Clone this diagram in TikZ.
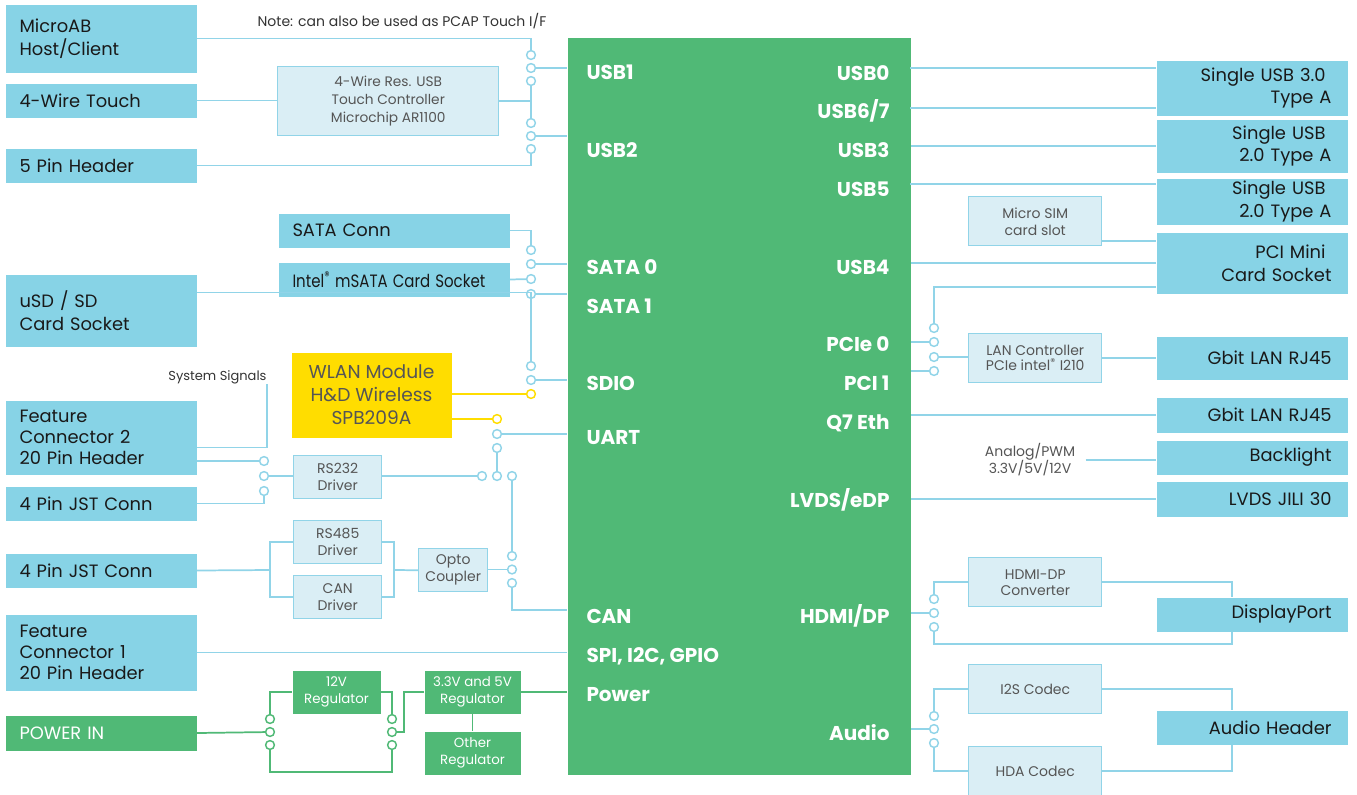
\documentclass[tikz,border=0pt]{standalone}
\usepackage{fontspec}
\setmainfont{Poppins}
\usetikzlibrary{positioning}

\definecolor{boxcyan}{RGB}{135,211,230}
\definecolor{modgreen}{RGB}{80,185,118}
\definecolor{wireblue}{RGB}{145,212,232}
\definecolor{subfill}{RGB}{218,238,245}
\definecolor{wlanyellow}{RGB}{255,221,0}
\definecolor{subtext}{RGB}{85,85,85}

\tikzset{every picture/.style={line width=0.75pt}}
\tikzset{
  ext/.style={fill=boxcyan, anchor=north west, inner xsep=10.5pt, inner ysep=0pt, text width=122.25pt, align=left, text=black!90, font=\fontsize{13.4}{17}\selectfont},
  extr/.style={ext, align=right, inner xsep=12pt, text width=119.25pt},
  sub/.style={draw=wireblue, fill=subfill, line width=1.1pt, anchor=north west, align=center, inner sep=0pt, text=subtext, font=\fontsize{10.5}{12.75}\selectfont},
  reg/.style={fill=modgreen, anchor=north west, align=center, inner sep=0pt, text=white, font=\fontsize{10}{12.75}\selectfont},
  port/.style={text=white, inner sep=0pt, text height=11pt, text depth=0pt, font=\fontsize{15}{18}\selectfont\bfseries},
  note/.style={text=black!80, inner sep=0pt, font=\fontsize{10.5}{12.75}\selectfont},
  wire/.style={draw=wireblue, line width=1.3pt},
  pwire/.style={draw=modgreen, line width=1.3pt},
  ywire/.style={draw=wlanyellow, line width=1.3pt},
  sw/.style={circle, draw=wireblue, fill=white, line width=1.1pt, minimum size=6.6pt, inner sep=0pt},
  psw/.style={sw, draw=modgreen},
  ysw/.style={sw, draw=wlanyellow}
}

\begin{document}
\begin{tikzpicture}[x=0.75pt,y=0.75pt,yscale=-1,xscale=1]
\useasboundingbox (0,0) rectangle (1357,794);

%Shape: Qseven module
\node[fill=modgreen, anchor=north west, inner sep=0pt, minimum width=257.25pt, minimum height=552.75pt] (main) at (567,37) {};

% Ports, left
\node[port, anchor=west] (pUSBa) at (586,72) {USB1};
\node[port, anchor=west] (pUSBb) at (586,150) {USB2};
\node[port, anchor=west] (pSATAa) at (586,267) {SATA 0};
\node[port, anchor=west] (pSATAb) at (586,306) {SATA 1};
\node[port, anchor=west] (pSDIO) at (586,383) {SDIO};
\node[port, anchor=west] (pUART) at (586,437) {UART};
\node[port, anchor=west] (pCAN) at (586,616) {CAN};
\node[port, anchor=west] (pSPI) at (586,655) {SPI, I2C, GPIO};
\node[port, anchor=west] (pPWR) at (586,694) {Power};
% Ports, right
\node[port, anchor=east] (pUSBz) at (890,73) {USB0};
\node[port, anchor=east] (pUSBs) at (890,111) {USB6/7};
\node[port, anchor=east] (pUSBt) at (890,150) {USB3};
\node[port, anchor=east] (pUSBf) at (890,189) {USB5};
\node[port, anchor=east] (pUSBq) at (890,267) {USB4};
\node[port, anchor=east] (pPCIe) at (890,344) {PCIe 0};
\node[port, anchor=east] (pPCI) at (890,383) {PCI 1};
\node[port, anchor=east] (pETH) at (890,422) {Q7 Eth};
\node[port, anchor=east] (pLVDS) at (890,500) {LVDS/eDP};
\node[port, anchor=east] (pHDMI) at (890,616) {HDMI/DP};
\node[port, anchor=east] (pAUD) at (890,733) {Audio};

%Shape: left connectors
\node[ext, minimum height=51pt] (microab) at (5,4) {MicroAB\\Host/Client};
\node[ext, minimum height=25.5pt] (touch) at (5,83) {4-Wire Touch};
\node[ext, minimum height=25.5pt] (pinhdr) at (5,148) {5 Pin Header};
\node[ext, minimum height=54pt] (usd) at (5,274) {uSD / SD\\Card Socket};
\node[ext, minimum height=55.5pt, font=\fontsize{13.4}{15.75}\selectfont] (feat2) at (5,400) {Feature\\Connector 2\\20 Pin Header};
\node[ext, minimum height=25.5pt] (jsta) at (5,486) {4 Pin JST Conn};
\node[ext, minimum height=25.5pt] (jstb) at (5,553) {4 Pin JST Conn};
\node[ext, minimum height=57pt, font=\fontsize{13.4}{15.75}\selectfont] (feat1) at (5,614) {Feature\\Connector 1\\20 Pin Header};
\node[ext, fill=modgreen, text=white, minimum height=26.25pt] (pwrin) at (5,715) {POWER IN};
\node[ext, text width=152.25pt, minimum height=25.5pt] (sataconn) at (278,213) {SATA Conn};
\node[ext, text width=152.25pt, minimum height=25.5pt] (msata) at (278,262) {\scalebox{0.84}[1]{Intel\textsuperscript{®} mSATA Card Socket}};

%Shape: left helpers
\node[sub, minimum width=165.75pt, minimum height=51.75pt, font=\fontsize{10.3}{13.5}\selectfont] (ctrl) at (277,66) {4-Wire Res. USB\\Touch Controller\\Microchip AR1100};
\node[anchor=north west, fill=wlanyellow, inner sep=0pt, minimum width=120pt, minimum height=63.75pt, align=center, text=subtext, font=\fontsize{14}{17.25}\selectfont] (wlan) at (291,352) {WLAN Module\\H\&D Wireless\\SPB209A};
\node[sub, minimum width=66pt, minimum height=32.25pt] (rsA) at (293,455) {RS232\\Driver};
\node[sub, minimum width=66pt, minimum height=32.25pt] (rsB) at (293,520) {RS485\\Driver};
\node[sub, minimum width=66pt, minimum height=32.25pt] (candrv) at (293,575) {CAN\\Driver};
\node[sub, minimum width=51.75pt, minimum height=32.25pt] (opto) at (418,548) {Opto\\Coupler};
\node[reg, minimum width=66pt, minimum height=32.25pt] (regtw) at (292,670) {12V\\Regulator};
\node[reg, minimum width=72pt, minimum height=32.25pt] (regtf) at (424,670) {3.3V and 5V\\Regulator};
\node[reg, minimum width=72pt, minimum height=32.25pt] (regot) at (424,731) {Other\\Regulator};

%Shape: right connectors
\node[extr, minimum height=41.25pt] (usbthree) at (1156,60) {Single USB 3.0\hspace{4.5pt}\mbox{}\\Type A};
\node[extr, minimum height=39.75pt] (usbtwoa) at (1156,119) {Single USB\hspace{4.5pt}\mbox{}\\2.0 Type A};
\node[extr, minimum height=34.5pt] (usbtwob) at (1156,178) {Single USB\hspace{4.5pt}\mbox{}\\2.0 Type A};
\node[extr, minimum height=45.75pt] (pcimini) at (1156,232) {PCI Mini\hspace{4.5pt}\mbox{}\\Card Socket};
\node[extr, minimum height=32.25pt] (lana) at (1156,336) {Gbit LAN RJ45};
\node[extr, minimum height=26.25pt] (lanb) at (1156,397) {Gbit LAN RJ45};
\node[extr, minimum height=25.5pt] (blight) at (1156,440) {Backlight};
\node[extr, minimum height=26.25pt] (lvds) at (1156,481) {LVDS JILI 30};
\node[extr, minimum height=25.5pt] (dport) at (1156,597) {DisplayPort};
\node[extr, minimum height=25.5pt] (audhdr) at (1156,710) {Audio Header};

%Shape: right helpers
\node[sub, minimum width=99.75pt, minimum height=36.75pt] (sim) at (968,196) {Micro SIM\\card slot};
\node[sub, minimum width=99.75pt, minimum height=36.75pt, font=\fontsize{10.5}{11.25}\selectfont] (lanctl) at (968,333) {LAN Controller\\PCIe intel\textsuperscript{®} I210};
\node[sub, minimum width=99.75pt, minimum height=36.75pt, font=\fontsize{10.5}{12}\selectfont] (hdmidp) at (968,557) {HDMI-DP\\Converter};
\node[sub, minimum width=99.75pt, minimum height=36.75pt] (itwos) at (968,664) {I2S Codec};
\node[sub, minimum width=99.75pt, minimum height=36.75pt] (hda) at (968,746) {HDA Codec};

% Text Node
\node[note] (pcapnote) at (402,21) {Note: can also be used as PCAP Touch I/F};
% Text Node
\node[note, anchor=south east, font=\fontsize{9.75}{12}\selectfont] (syssig) at (267,384) {System Signals};
% Text Node
\node[note, align=center, inner xsep=7.5pt, text=subtext] (analog) at (1030,460) {Analog/PWM\\3.3V/5V/12V};

% Switches
\node[sw] (ua) at (531,55) {};
\node[sw] (ub) at (531,68) {};
\node[sw] (uc) at (531,81) {};
\node[sw] (va) at (531,123) {};
\node[sw] (vb) at (531,136) {};
\node[sw] (vc) at (531,149) {};
\node[sw] (sa) at (531,250) {};
\node[sw] (sb) at (531,264) {};
\node[sw] (sc) at (531,279) {};
\node[sw] (sd) at (531,294) {};
\node[sw] (da) at (531,366) {};
\node[sw] (db) at (531,380) {};
\node[ysw] (dc) at (531,394) {};
\node[ysw] (wa) at (497,419) {};
\node[sw] (wb) at (497,434) {};
\node[sw] (wc) at (497,448) {};
\node[sw] (ha) at (482,476) {};
\node[sw] (hb) at (497,476) {};
\node[sw] (hc) at (512,476) {};
\node[sw] (ca) at (512,556) {};
\node[sw] (cb) at (512,569.5) {};
\node[sw] (cc) at (512,583) {};
\node[sw] (fa) at (264,461) {};
\node[sw] (fb) at (264,476) {};
\node[sw] (fc) at (264,491) {};
\node[psw] (pa) at (270,719) {};
\node[psw] (pb) at (270,732) {};
\node[psw] (pc) at (270,745) {};
\node[psw] (qa) at (392,719) {};
\node[psw] (qb) at (392,732) {};
\node[psw] (qc) at (392,745) {};
\node[sw] (ea) at (934,328) {};
\node[sw] (eb) at (934,342) {};
\node[sw] (ec) at (934,357) {};
\node[sw] (ed) at (934,371) {};
\node[sw] (ma) at (934,599) {};
\node[sw] (mb) at (934,613) {};
\node[sw] (mc) at (934,627) {};
\node[sw] (aa) at (934,716) {};
\node[sw] (ab) at (934,729) {};
\node[sw] (ac) at (934,743) {};

% Tap points
\coordinate (tcan) at (567,610);
\coordinate (tusbz) at (910,68);
\coordinate (tusbs) at (910,108);
\coordinate (tusbf) at (910,184);
\coordinate (tsim) at (1101,241);
\coordinate (tpci) at (1156,287);
\coordinate (jsplit) at (270,570);
\coordinate (osplit) at (394,570);

%Straight Lines: USB1 / USB2
\draw[wire] (microab.east) -| (ua);
\draw[wire] (ub) -- (ub -| main.west);
\draw[wire] (uc) -- (va);
\draw[wire] (touch.east) -- (touch.east -| ctrl.west);
\draw[wire] (ctrl.east) -- (ctrl.east -| uc);
\draw[wire] (vb) -- (vb -| main.west);
\draw[wire] (vc) |- (pinhdr.east);
%Straight Lines: SATA
\draw[wire] (sataconn.east) -| (sa);
\draw[wire] (sb) -- (sb -| main.west);
\draw[wire] (msata.east) -- (sc);
\draw[wire] (sd) -- (sd -| main.west);
%Straight Lines: SDIO
\draw[wire] ([yshift=-13.5pt]usd.east) -| (da);
\draw[wire] (db) -- (db -| main.west);
\draw[ywire] (dc) -- (dc -| wlan.east);
%Straight Lines: UART
\draw[ywire] (wa) -- (wa -| wlan.east);
\draw[wire] (wb) -- (wb -| main.west);
\draw[wire] (wc) -- (hb);
\draw[wire] (ha) -- (ha -| rsA.east);
\draw[wire] (hc) -- (ca);
\draw[wire] (cb) -- (cb -| opto.east);
\draw[wire] (cc) |- (tcan);
%Straight Lines: feature connector 2
\draw[wire] (syssig.south east) |- ([yshift=7.5pt]feat2.east);
\draw[wire] (fa) -- (fa -| feat2.east);
\draw[wire] (fb) -- (fb -| rsA.west);
\draw[wire] (fc) |- (jsta.east);
%Straight Lines: RS485 / CAN
\draw[wire] (jstb.east) -- (jsplit);
\draw[wire] (rsB.west) -| (jsplit) |- (candrv.west);
\draw[wire] (rsB.east) -| (osplit) |- (candrv.east);
\draw[wire] (osplit) -- (opto.west);
%Straight Lines: feature connector 1
\draw[wire] (feat1.east) -- (feat1.east -| main.west);
%Straight Lines: power
\draw[pwire] (pwrin.east) -- (pb);
\draw[pwire] (pa) |- (regtw.west);
\draw[pwire] (pc) -- ++(0,27) -| (qc);
\draw[pwire] (qa) |- (regtw.east);
\draw[pwire] (qb) -- ++(12,0) |- (regtf.west);
\draw[pwire] (regtf.east) -- (regtf.east -| main.west);
\draw[pwire] (regtf.south) -- (regot.north);
%Straight Lines: USB right
\draw[wire] (tusbz) -- (tusbz -| usbthree.west);
\draw[wire] (tusbs) -- (tusbs -| usbthree.west);
\draw[wire] (usbtwoa.west) -- (usbtwoa.west -| main.east);
\draw[wire] (tusbf) -- (tusbf -| usbtwob.west);
\draw[wire] (tsim) -- (tsim -| pcimini.west);
\draw[wire] (pcimini.west) -- (pcimini.west -| main.east);
%Straight Lines: PCIe
\draw[wire] (tpci) -| (ea);
\draw[wire] (eb) -- (eb -| main.east);
\draw[wire] (ec) -- (ec -| lanctl.west);
\draw[wire] (ed) -- (ed -| main.east);
\draw[wire] (lanctl.east) -- (lanctl.east -| lana.west);
\draw[wire] (lanb.west) -- (lanb.west -| main.east);
%Straight Lines: display
\draw[wire] (analog.east) -- (analog.east -| blight.west);
\draw[wire] (lvds.west) -- (lvds.west -| main.east);
\draw[wire] (mb) -- (mb -| main.east);
\draw[wire] (ma) |- (hdmidp.west);
\draw[wire] (hdmidp.east) -| ([xshift=57pt]dport.north west);
\draw[wire] (mc) -- ++(0,17) -| ([xshift=57pt]dport.south west);
%Straight Lines: audio
\draw[wire] (ab) -- (ab -| main.east);
\draw[wire] (aa) |- (itwos.west);
\draw[wire] (itwos.east) -| ([xshift=57pt]audhdr.north west);
\draw[wire] (ac) |- (hda.west);
\draw[wire] (hda.east) -| ([xshift=57pt]audhdr.south west);

\end{tikzpicture}
\end{document}
